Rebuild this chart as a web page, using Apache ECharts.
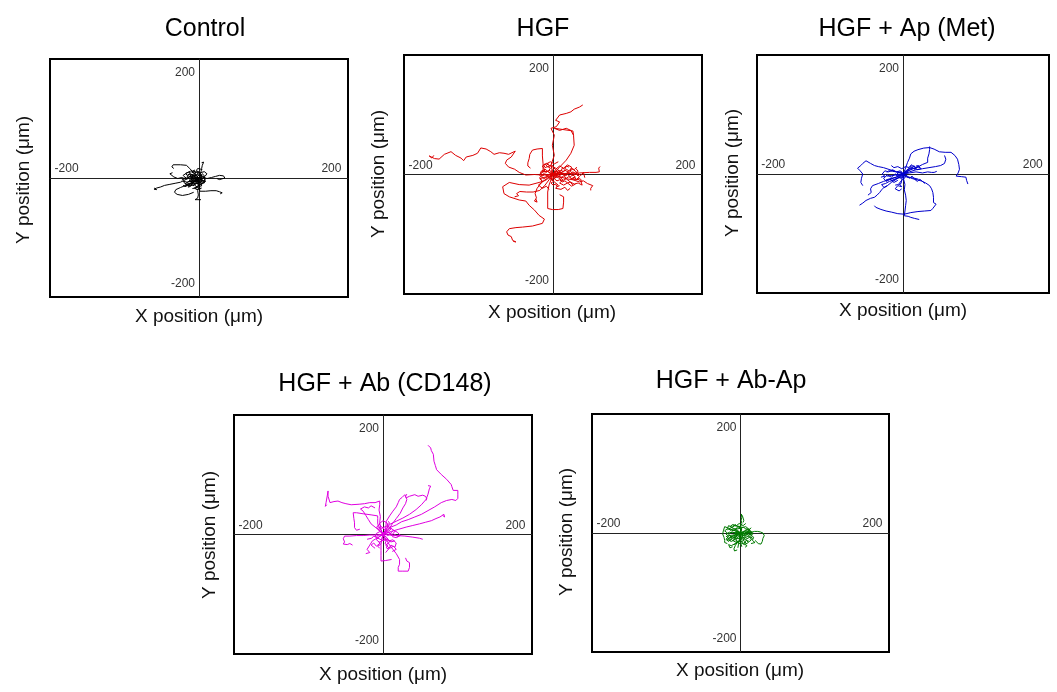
<!DOCTYPE html>
<html>
<head>
<meta charset="utf-8">
<title>Cell migration tracks</title>
<script src="https://cdn.jsdelivr.net/npm/echarts@6/dist/echarts.min.js"></script>
<style>
html,body{margin:0;padding:0;background:#fff;}
#main{width:1057px;height:692px;}
</style>
</head>
<body>
<div id="main"></div>
<script>
// panel titles and tick labels
var panelTitles = ['Control', 'HGF', 'HGF + Ap (Met)', 'HGF + Ab (CD148)', 'HGF + Ab-Ap'];
var panelColors = ['#000000', '#dd0000', '#0000cc', '#e000e0', '#007a00'];
var tickValues = [-200, 200];
var axisRange = [-225, 225];

// tracks, um, every track starts at the origin
var ctrlTracks = [
	[[0,0],[-6,-2],[-13,1],[-20,-3],[-28,-8],[-36,-10],[-44,-12],[-52,-14],[-58,-17],[-64,-19],[-68,-21],[-64,-22],[-67,-19]],
	[[0,0],[-4,5],[-9,11],[-14,18],[-19,24],[-28,25],[-39,25],[-41,21],[-38,18]],
	[[0,0],[2,6],[3,12],[4,18],[5,24],[7,30],[4,29],[8,32],[9,28]],
	[[0,0],[6,2],[12,-1],[19,1],[25,3],[31,5],[37,4],[39,0],[37,-3],[31,-3],[27,-1]],
	[[0,0],[-1,-8],[1,-16],[1,-25],[10,-25],[18,-24],[26,-24],[31,-26],[35,-28],[32,-30],[36,-31]],
	[[0,0],[-6,-6],[-12,-10],[-20,-14],[-28,-18],[-35,-22],[-37,-27],[-33,-31],[-25,-33],[-16,-31],[-8,-27]],
	[[0,0],[-3,-8],[0,-16],[-2,-24],[-1,-32],[-2,-38],[-6,-41],[3,-41]],
	[[0,0],[-5,-3],[-9,3],[-13,-2],[-18,2],[-15,8],[-9,6],[-11,-4],[-5,-7],[-8,-12]],
	[[0,0],[5,4],[-2,8],[-7,3],[-3,-5],[4,-3],[8,-7],[3,-12],[-4,-10],[-9,-15]],
	[[0,0],[-3,-5],[-9,-8],[-15,-6],[-21,-11],[-14,-15],[-7,-13],[-2,-18],[-10,-20]],
	[[0,0],[3,7],[-2,12],[-8,9],[-13,13],[-19,9],[-24,5],[-20,0],[-26,-4]],
	[[0,0],[7,3],[9,-4],[5,-10],[-2,-15],[-7,-19],[-3,-22],[4,-19]],
	[[0,0],[-8,-1],[-14,3],[-20,-2],[-26,1],[-32,-1],[-38,2],[-44,8],[-40,10]],
	[[0,0],[4,-4],[10,-6],[6,-11],[0,-8],[-6,-12],[-12,-9],[-16,-14],[-22,-16]],
	[[0,0],[-4,4],[-10,1],[-12,-6],[-18,-8],[-24,-6],[-20,-12],[-14,-10],[-16,-18]],
	[[0,0],[5,8],[9,3],[12,8],[8,12],[2,10],[-4,14],[-2,18],[5,16]],
	[[0,0],[-2,3],[-6,1],[-8,5],[-12,3],[-14,7],[-18,5],[-20,9],[-16,11],[-12,9]],
	[[0,0],[2,-3],[-1,-6],[3,-9],[0,-12],[4,-15],[1,-18],[-3,-16],[-5,-20]],
	[[0,0],[-3,-2],[-5,-6],[-9,-4],[-12,-8],[-10,-12],[-14,-14],[-18,-12],[-20,-16],[-24,-14]],
	[[0,0],[3,2],[6,-1],[8,3],[11,1],[9,-3],[12,-6],[8,-9],[5,-6]],
	[[0,0],[-2,-3],[-4,1],[-7,-2],[-9,2],[-12,-1],[-15,3],[-17,-1],[-21,1],[-24,-3]],
	[[0,0],[1,4],[-3,6],[-1,10],[-5,12],[-8,9],[-10,13],[-6,15]],
	[[0,0],[-4,-1],[-6,-5],[-3,-9],[-7,-11],[-10,-7],[-13,-10],[-11,-14],[-15,-17]],
	[[0,0],[2,2],[5,0],[3,-4],[6,-6],[3,-9],[-1,-7],[-2,-11],[2,-13]],
	[[0,0],[-3,1],[-5,-2],[-8,0],[-10,-3],[-13,-1],[-15,-4],[-18,-2],[-16,-6],[-12,-5],[-9,-8]],
	[[0,0],[2,1],[1,-3],[4,-5],[2,-8],[-1,-6],[-3,-9],[-6,-7],[-8,-10],[-11,-8]],
	[[0,0],[-1,2],[-4,4],[-6,2],[-9,5],[-11,3],[-13,6],[-10,8],[-7,6],[-5,9]],
	[[0,0],[-2,-1],[-3,-4],[-6,-3],[-8,-6],[-7,-9],[-10,-11],[-13,-9],[-15,-12]],
	[[0,0],[1,-2],[4,-1],[3,-4],[6,-3],[5,-6],[2,-5],[0,-8],[-3,-6]]
];

var hgfTracks = [
	[[0,0],[-16,-1],[-28,0],[-41,-1],[-51,4],[-58,10],[-67,14],[-72,21],[-70,27],[-63,33],[-57,44],[-60,45],[-67,38],[-74,40],[-81,41],[-89,38],[-94,43],[-101,48],[-109,50],[-114,40],[-121,36],[-131,33],[-135,26],[-139,31],[-147,36],[-154,43],[-164,38],[-172,29],[-179,30],[-187,35],[-183,31],[-180,36]],
	[[0,0],[-11,-11],[-21,-15],[-36,-20],[-51,-19],[-66,-15],[-76,-23],[-74,-36],[-66,-42],[-51,-48],[-41,-50],[-36,-58],[-28,-67],[-21,-77],[-13,-84],[-16,-92],[-31,-97],[-46,-99],[-56,-100],[-66,-102],[-70,-108],[-68,-114],[-63,-117],[-61,-124],[-56,-127],[-60,-126]],
	[[0,0],[-3,18],[2,36],[-1,55],[2,74],[-3,87],[5,90],[10,99],[4,102],[10,112],[20,115],[27,118],[32,123],[40,127],[45,131]],
	[[0,0],[10,14],[20,27],[27,40],[32,55],[31,74],[27,83],[20,87],[10,83],[2,87],[30,82],[31,74]],
	[[0,0],[-8,6],[-15,5],[-15,20],[-16,35],[-16,49],[-24,48],[-31,46],[-35,38],[-36,30],[-38,22],[-38,16],[-34,12]],
	[[0,0],[12,2],[25,2],[40,3],[55,4],[65,4],[70,5],[69,12],[71,15]],
	[[0,0],[10,-4],[20,-8],[30,-10],[40,-14],[46,-12],[52,-17],[60,-21],[57,-26],[57,-30]],
	[[0,0],[-3,-10],[-6,-20],[-8,-33],[-8,-48],[-8,-64],[-1,-66],[8,-66],[15,-64],[16,-52],[16,-42],[10,-38]],
	[[0,0],[-6,-10],[-12,-20],[-20,-30],[-30,-33],[-40,-33],[-50,-32],[-55,-36],[-52,-40],[-58,-42]],
	[[0,0],[-10,-8],[-18,-16],[-24,-26],[-27,-36],[-25,-44],[-28,-50],[-24,-52],[-26,-46]],
	[[0,0],[5,6],[12,3],[18,8],[24,4],[30,-2],[36,2],[40,-4],[35,-10],[28,-8]],
	[[0,0],[-6,4],[-12,10],[-18,6],[-20,-2],[-14,-8],[-8,-4],[-2,-10],[4,-6]],
	[[0,0],[8,-6],[14,-12],[20,-8],[26,-14],[32,-18],[38,-16],[44,-20],[42,-12],[36,-8]],
	[[0,0],[-4,-8],[2,-14],[8,-20],[4,-26],[12,-28],[18,-24],[22,-30],[26,-26]],
	[[0,0],[4,10],[10,16],[16,12],[22,18],[28,14],[26,6],[32,0],[38,6],[34,12]],
	[[0,0],[-8,-4],[-14,2],[-20,-6],[-16,-14],[-22,-20],[-16,-26],[-10,-22],[-6,-28]],
	[[0,0],[6,-2],[10,6],[4,12],[-4,16],[-10,20],[-4,24],[2,20],[8,24]],
	[[0,0],[12,4],[18,-2],[24,6],[30,10],[36,4],[42,-2],[46,4],[48,-6]],
	[[0,0],[3,-6],[9,-4],[15,-10],[10,-16],[16,-20],[22,-16],[28,-22],[34,-18]],
	[[0,0],[-3,6],[3,12],[-2,18],[-8,14],[-12,20],[-16,16],[-12,8],[-18,4]],
	[[0,0],[3,-2],[6,2],[10,-1],[14,3],[18,0],[22,4],[26,1],[30,5],[34,2],[38,-3]],
	[[0,0],[2,4],[6,2],[8,8],[12,6],[14,12],[18,10],[20,16],[24,14]],
	[[0,0],[4,-4],[2,-8],[6,-12],[10,-10],[14,-14],[18,-12],[22,-16],[26,-14],[30,-20]],
	[[0,0],[-3,-3],[-6,0],[-9,-4],[-12,-1],[-15,-6],[-18,-3],[-20,-8],[-16,-12]],
	[[0,0],[5,1],[8,-3],[12,-6],[16,-3],[20,-7],[24,-4],[28,-8],[32,-5],[36,-10],[40,-7],[44,-12]],
	[[0,0],[-2,5],[-6,8],[-4,12],[-8,15],[-12,13],[-14,18],[-10,21],[-6,19]],
	[[0,0],[4,6],[8,3],[12,8],[16,5],[20,10],[24,7],[28,12],[32,9],[36,14]],
	[[0,0],[2,-5],[-2,-8],[1,-13],[-3,-16],[0,-20],[4,-18],[6,-23],[10,-21]],
	[[0,0],[6,2],[10,-2],[14,1],[18,-3],[22,0],[26,-4],[30,-1],[34,-5],[30,-9],[26,-6]],
	[[0,0],[-4,2],[-8,-2],[-12,1],[-16,-3],[-18,2],[-14,6],[-10,4],[-6,8]]
];

var apTracks = [
	[[0,0],[3,8],[7,22],[10,30],[12,38],[17,43],[23,46],[32,49],[41,50],[48,47],[56,42],[65,41],[74,41],[80,35],[84,28],[86,18],[87,9],[85,2],[82,-4],[90,-5],[97,-6],[98,-12],[100,-19]],
	[[0,0],[8,6],[16,10],[24,14],[30,18],[38,22],[38,30],[40,38],[41,46],[41,52]],
	[[0,0],[10,4],[20,8],[30,10],[40,12],[50,14],[58,16],[64,20],[66,28],[64,35]],
	[[0,0],[8,-5],[15,-9],[22,-11],[28,-13],[35,-17],[41,-22],[44,-28],[46,-35],[47,-44],[47,-54],[51,-57],[48,-60],[46,-65],[43,-69],[33,-70],[23,-71],[12,-73],[2,-76],[-8,-75],[-18,-72],[-26,-70],[-34,-67],[-42,-63],[-44,-60],[-40,-64]],
	[[0,0],[-8,-8],[-18,-16],[-24,-22],[-29,-25],[-33,-30],[-36,-35],[-40,-40],[-44,-44],[-50,-46],[-57,-50],[-62,-55],[-67,-59]],
	[[0,0],[1,-10],[3,-20],[2,-30],[4,-40],[5,-50],[4,-60],[3,-70],[2,-79],[8,-80],[12,-82],[18,-84],[25,-86]],
	[[0,0],[-10,4],[-20,8],[-30,12],[-38,14],[-44,16],[-50,20],[-57,25],[-62,20],[-65,16],[-70,11],[-66,6],[-62,0],[-64,-8],[-65,-16],[-62,-22]],
	[[0,0],[-10,-6],[-20,-10],[-30,-14],[-38,-18],[-47,-22],[-50,-28],[-49,-35],[-54,-40]],
	[[0,0],[10,2],[20,4],[30,2],[38,4],[44,3],[48,3],[52,5]],
	[[0,0],[-6,-4],[-12,0],[-18,-6],[-24,-2],[-30,-8],[-26,-14],[-20,-10],[-14,-16],[-8,-12]],
	[[0,0],[-4,6],[-10,4],[-16,8],[-22,4],[-28,6],[-32,0],[-28,-4],[-34,-6]],
	[[0,0],[4,-6],[-2,-12],[-6,-18],[-2,-24],[-8,-22],[-12,-28],[-6,-32],[-2,-28]],
	[[0,0],[6,8],[12,12],[18,10],[24,14],[28,10],[22,8],[16,16],[10,14],[14,18]],
	[[0,0],[-3,-5],[-9,-8],[-15,-12],[-21,-14],[-27,-18],[-33,-20],[-29,-26],[-24,-22]],
	[[0,0],[5,-4],[10,-8],[14,-4],[18,-10],[22,-14],[26,-10],[30,-14],[34,-18]],
	[[0,0],[-2,4],[-8,2],[-10,-4],[-4,-8],[2,-6],[6,-2],[-1,-3]],
	[[0,0],[3,5],[8,6],[10,12],[4,14],[-2,10],[-8,14],[-14,12],[-18,16]],
	[[0,0],[-3,2],[-6,-1],[-9,2],[-12,-2],[-15,1],[-18,-3],[-21,0],[-24,-4],[-27,-1]],
	[[0,0],[-2,-3],[-5,-1],[-8,-5],[-11,-3],[-14,-7],[-17,-5],[-20,-9],[-23,-7],[-26,-11]],
	[[0,0],[3,4],[7,6],[10,10],[14,12],[18,10],[22,14],[26,12],[24,16],[20,15]],
	[[0,0],[-1,-4],[-4,-7],[-2,-11],[-5,-14],[-3,-18],[-7,-20],[-10,-17],[-12,-21]],
	[[0,0],[2,-2],[-1,-5],[-4,-3],[-6,-7],[-9,-5],[-11,-9],[-14,-8],[-17,-12],[-20,-10]],
	[[0,0],[4,2],[8,5],[11,9],[15,11],[19,9],[22,12],[18,15],[14,13]],
	[[0,0],[-4,3],[-7,0],[-10,4],[-13,1],[-16,5],[-19,2],[-22,6],[-25,3]],
	[[0,0],[3,-3],[6,-6],[9,-3],[12,-7],[15,-4],[18,-8],[21,-6],[24,-10]]
];

var abTracks = [
	[[0,0],[10,13],[20,18],[28,24],[38,28],[48,33],[58,38],[68,45],[78,52],[88,60],[96,64],[104,66],[110,64],[113,68],[113,76],[113,83],[106,83],[104,90],[103,94],[96,104],[88,113],[81,122],[79,130],[77,138],[76,151],[73,158],[72,163],[68,168]],
	[[0,0],[5,9],[10,19],[20,25],[30,31],[40,38],[50,47],[58,56],[65,66],[68,76],[70,86],[72,91],[68,92]],
	[[0,0],[13,6],[24,10],[35,14],[45,17],[55,20],[64,23],[73,26],[80,30],[86,33],[92,38],[93,33],[90,36]],
	[[0,0],[4,10],[5,25],[10,35],[15,44],[20,52],[23,60],[25,66],[29,70],[33,75],[35,69],[40,72],[48,75],[53,72],[55,75],[60,74],[64,72],[66,68],[65,64]],
	[[0,0],[8,8],[14,20],[20,30],[26,40],[30,50],[34,58],[36,66],[34,72],[36,76]],
	[[0,0],[-3,10],[-5,22],[-4,34],[-6,46],[-5,56],[-5,63],[-12,60],[-20,60],[-28,58],[-36,57],[-48,56],[-56,58],[-62,60],[-68,63],[-74,62],[-80,60],[-81,63],[-83,72],[-83,82],[-84,74],[-86,60],[-87,53],[-85,56]],
	[[0,0],[-4,10],[-8,20],[-8,30],[-8,35],[-18,37],[-30,39],[-40,41],[-45,41],[-44,30],[-43,22],[-43,13],[-40,8],[-35,10]],
	[[0,0],[-6,8],[-12,14],[-18,20],[-22,28],[-26,36],[-30,44],[-34,48],[-28,52],[-22,50],[-18,54],[-12,50]],
	[[0,0],[-10,-1],[-20,-1],[-30,-2],[-40,-2],[-50,-3],[-58,-3],[-60,-8],[-58,-14],[-60,-18],[-54,-19],[-50,-17],[-46,-20]],
	[[0,0],[5,-10],[10,-20],[15,-28],[20,-36],[25,-47],[25,-56],[23,-62],[23,-69],[30,-69],[38,-69],[40,-62],[40,-53],[36,-50],[34,-44]],
	[[0,0],[-2,-10],[-3,-19],[-3,-30],[-3,-40],[-3,-50],[4,-49],[13,-47]],
	[[0,0],[10,-1],[20,-2],[33,-3],[45,-5],[55,-7],[60,-9]],
	[[0,0],[-8,-6],[-16,-12],[-20,-20],[-24,-28],[-20,-34],[-26,-36]],
	[[0,0],[4,8],[-2,14],[-6,20],[0,26],[6,22],[8,16],[12,10],[6,4]],
	[[0,0],[6,-6],[10,-14],[4,-20],[10,-26],[16,-22],[20,-28],[14,-32]],
	[[0,0],[-6,-4],[-10,-10],[-4,-16],[-10,-22],[-14,-16],[-18,-20],[-12,-26]],
	[[0,0],[8,4],[14,0],[18,6],[12,12],[6,16],[-2,12],[-6,8],[-10,14]],
	[[0,0],[3,-8],[9,-12],[15,-10],[20,-16],[18,-24],[12,-20],[8,-28],[4,-34]],
	[[0,0],[-4,6],[-10,2],[-12,-4],[-6,-8],[0,-12],[6,-8],[12,-14],[18,-12]],
	[[0,0],[5,5],[11,2],[16,8],[22,4],[26,-2],[20,-6],[14,-4]],
	[[0,0],[-2,4],[-5,2],[-3,7],[-7,9],[-5,13],[-9,15],[-6,19]],
	[[0,0],[3,-4],[1,-9],[5,-12],[3,-17],[7,-20],[5,-25],[9,-28]],
	[[0,0],[-3,-3],[-7,-1],[-10,-5],[-14,-3],[-17,-7],[-20,-5],[-24,-9]],
	[[0,0],[4,2],[7,-2],[11,1],[14,-3],[18,0],[22,-4],[26,-1]],
	[[0,0],[2,5],[6,7],[4,11],[8,14],[6,18],[10,21],[8,25]],
	[[0,0],[-1,-5],[-4,-8],[-2,-12],[-6,-15],[-4,-19],[-8,-22],[-5,-26]]
];

var abApTracks = [
	[[0,0],[4,-2],[9,1],[16,1],[21,3],[26,3],[30,2],[34,0],[36,-5],[34,-10],[33,-16],[31,-21],[27,-20],[24,-18],[22,-14]],
	[[0,0],[1,6],[0,12],[2,18],[1,24],[2,30],[1,36],[1,39],[3,32],[5,30],[5,24],[4,20]],
	[[0,0],[-6,3],[-12,6],[-18,9],[-24,12],[-27,11],[-26,4],[-27,-2],[-25,-8],[-24,-14],[-24,-18],[-20,-20]],
	[[0,0],[-3,-6],[-6,-12],[-5,-18],[-8,-24],[-10,-30],[-9,-34],[-5,-32]],
	[[0,0],[-6,-2],[-12,2],[-18,-2],[-14,-8],[-20,-12],[-14,-16],[-8,-12],[-4,-18],[-10,-22]],
	[[0,0],[5,-5],[10,-2],[14,-8],[8,-12],[12,-18],[6,-22],[0,-18],[2,-26]],
	[[0,0],[-4,5],[-10,8],[-16,12],[-12,16],[-6,14],[-2,18],[4,14],[8,18]],
	[[0,0],[6,4],[12,8],[8,12],[2,10],[-4,12],[-8,6],[-14,4],[-18,8]],
	[[0,0],[-3,-4],[-8,-8],[-14,-10],[-18,-16],[-22,-12],[-18,-6],[-22,-2],[-16,2]],
	[[0,0],[4,-8],[8,-14],[14,-16],[18,-10],[14,-4],[18,2],[12,4],[16,10]],
	[[0,0],[-2,-6],[2,-12],[-4,-16],[-8,-20],[-14,-24],[-18,-22],[-16,-28],[-12,-26]],
	[[0,0],[3,3],[8,-2],[12,4],[16,-4],[20,-8],[18,-14],[22,-18],[16,-20]],
	[[0,0],[-5,-1],[-10,-5],[-6,-10],[-12,-14],[-6,-18],[0,-14],[4,-20],[8,-16]],
	[[0,0],[2,8],[-4,12],[-8,16],[-12,10],[-18,14],[-20,8],[-24,4],[-20,0]],
	[[0,0],[-2,2],[-5,0],[-7,4],[-10,2],[-12,6],[-15,4],[-17,8],[-20,6]],
	[[0,0],[2,-3],[5,-1],[7,-5],[10,-3],[12,-7],[15,-5],[17,-9],[14,-12]],
	[[0,0],[-3,-3],[-1,-7],[-4,-10],[-2,-14],[-5,-17],[-3,-21],[-6,-24],[-4,-28]],
	[[0,0],[3,2],[6,-1],[9,3],[12,0],[15,4],[18,1],[16,6],[12,8]],
	[[0,0],[-4,-2],[-7,-6],[-11,-4],[-14,-8],[-17,-6],[-19,-10],[-16,-14],[-13,-12]],
	[[0,0],[1,5],[4,8],[1,12],[-2,9],[-5,13],[-8,10],[-11,14],[-14,11]],
	[[0,0],[4,-3],[2,-7],[6,-10],[4,-14],[8,-17],[6,-21],[10,-24],[7,-27]],
	[[0,0],[-3,1],[-6,-3],[-9,0],[-12,-4],[-15,-1],[-18,-5],[-21,-2],[-22,-7]],
	[[0,0],[2,3],[5,1],[8,5],[11,3],[14,7],[11,10],[7,8],[4,12]],
	[[0,0],[-1,-4],[3,-6],[1,-10],[5,-12],[3,-16],[-1,-14],[-3,-18],[0,-22]],
	[[0,0],[-4,3],[-8,1],[-6,-3],[-10,-6],[-13,-3],[-16,-7],[-12,-10],[-8,-8]],
	[[0,0],[3,-1],[6,3],[10,1],[13,5],[16,2],[19,-2],[16,-5],[12,-3]],
	[[0,0],[-2,-2],[-4,1],[-6,-2],[-8,1],[-10,-2],[-12,1],[-14,-2],[-16,1]],
	[[0,0],[1,-2],[-1,-4],[1,-6],[-1,-8],[1,-10],[-1,-12],[1,-14],[-1,-16]],
	[[0,0],[2,2],[4,0],[6,2],[8,0],[10,2],[12,0],[10,-3],[8,-5]],
	[[0,0],[-2,-3],[-5,-5],[-8,-7],[-10,-10],[-7,-12],[-4,-10],[-2,-13],[1,-11]],
	[[0,0],[2,-1],[4,-4],[7,-6],[9,-9],[6,-11],[3,-9],[1,-12],[-2,-10]],
	[[0,0],[-1,2],[-4,3],[-6,6],[-9,8],[-7,10],[-4,8],[-2,11],[1,9]]
];

var allTracks = [ctrlTracks, hgfTracks, apTracks, abTracks, abApTracks];

// layout of the five boxes (px)
var boxes = [
	{left: 50, top: 59, width: 298, height: 238},
	{left: 404, top: 55, width: 298, height: 239},
	{left: 757, top: 55, width: 292, height: 238},
	{left: 234, top: 415, width: 298, height: 239},
	{left: 592, top: 414, width: 297, height: 238}
];
var titlePos = [[205, 29], [543, 29], [907, 29], [385, 384], [731, 381]];
var xNamePos = [[199, 317], [552, 313], [903, 311], [383, 675], [740, 671]];
var yNamePos = [[24, 180], [379, 174], [733, 173], [210, 535], [567, 532]];

var fontFamily = '"Liberation Sans", Arial, sans-serif';

var grids = [], xAxes = [], yAxes = [], series = [], graphics = [];
for (var i = 0; i < boxes.length; i++) {
	grids.push({
		left: boxes[i].left, top: boxes[i].top,
		width: boxes[i].width, height: boxes[i].height,
		show: true, borderColor: '#000', borderWidth: 2,
		containLabel: false
	});
	// axes pulled into the middle of the box (range is symmetric)
	xAxes.push({
		gridIndex: i, type: 'value', min: axisRange[0], max: axisRange[1],
		position: 'bottom', offset: -boxes[i].height / 2,
		axisLine: {onZero: false, lineStyle: {color: '#222', width: 1}},
		axisTick: {show: false},
		splitLine: {show: false},
		axisLabel: {
			inside: true, customValues: tickValues, margin: 3,
			fontSize: 12, color: '#333', fontFamily: fontFamily
		}
	});
	yAxes.push({
		gridIndex: i, type: 'value', min: axisRange[0], max: axisRange[1],
		position: 'left', offset: -boxes[i].width / 2,
		axisLine: {onZero: false, lineStyle: {color: '#222', width: 1}},
		axisTick: {show: false},
		splitLine: {show: false},
		axisLabel: {
			customValues: tickValues, margin: 4,
			fontSize: 12, color: '#333', fontFamily: fontFamily
		}
	});
	var tracks = allTracks[i];
	for (var t = 0; t < tracks.length; t++) {
		series.push({
			type: 'line', xAxisIndex: i, yAxisIndex: i,
			data: tracks[t], showSymbol: false, symbol: 'none',
			lineStyle: {color: panelColors[i], width: 1},
			silent: true, animation: false, z: 3
		});
	}
	graphics.push({
		type: 'text', x: titlePos[i][0], y: titlePos[i][1],
		style: {text: panelTitles[i], font: '25px ' + fontFamily, fill: '#000', textAlign: 'center', textVerticalAlign: 'middle'}
	});
	graphics.push({
		type: 'text', x: xNamePos[i][0], y: xNamePos[i][1],
		style: {text: 'X position (μm)', font: '19px ' + fontFamily, fill: '#111', textAlign: 'center', textVerticalAlign: 'middle'}
	});
	graphics.push({
		type: 'text', x: yNamePos[i][0], y: yNamePos[i][1], rotation: Math.PI / 2,
		style: {text: 'Y position (μm)', font: '19px ' + fontFamily, fill: '#111', textAlign: 'center', textVerticalAlign: 'middle'}
	});
}

var chart = echarts.init(document.getElementById('main'), null, {renderer: 'canvas'});
chart.setOption({
	backgroundColor: '#fff',
	animation: false,
	grid: grids,
	xAxis: xAxes,
	yAxis: yAxes,
	series: series,
	graphic: graphics
});
</script>
</body>
</html>
